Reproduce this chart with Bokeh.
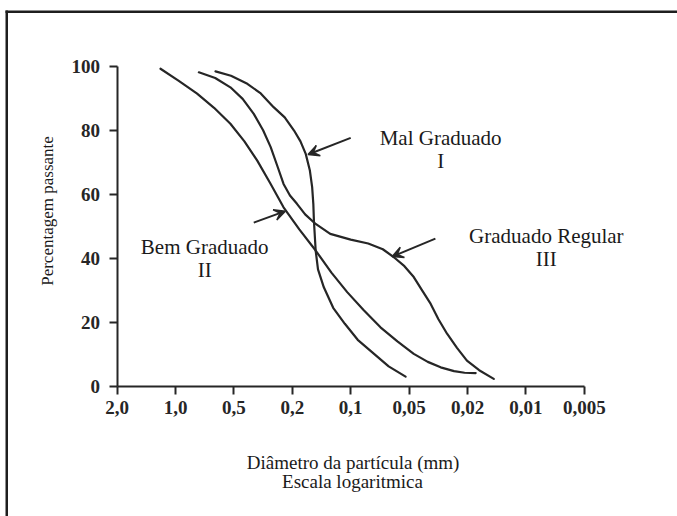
from bokeh.plotting import figure
from bokeh.models import (Range1d, FixedTicker, Label, Arrow, VeeHead, BoxAnnotation)
from bokeh.embed import file_html
from bokeh.resources import INLINE

# ---- data (x = position along the particle-diameter axis, in tick steps) ----
tick_labels = ["2,0", "1,0", "0,5", "0,2", "0,1", "0,05", "0,02", "0,01", "0,005"]
tick_pos = [0, 1, 2, 3, 4, 5, 6, 7, 8]
y_ticks = [0, 20, 40, 60, 80, 100]

# Curve I - Mal Graduado
mal_x = [1.685, 1.95, 2.23, 2.46, 2.68, 2.87, 3.03, 3.14, 3.23, 3.30, 3.34, 3.36, 3.37,
         3.40, 3.44, 3.54, 3.70, 3.90, 4.12, 4.40, 4.65, 4.94]
mal_y = [98.4, 97.0, 94.5, 91.5, 87.2, 84.0, 79.9, 76.5, 72.6, 67.5, 62.2, 57.0, 51.8,
         42.4, 36.5, 30.9, 24.5, 19.5, 14.5, 10.1, 6.2, 3.0]

# Curve II - Bem Graduado
bem_x = [0.743, 1.05, 1.37, 1.66, 1.94, 2.18, 2.40, 2.62, 2.85, 3.12, 3.40, 3.67, 3.94,
         4.22, 4.51, 4.80, 5.08, 5.32, 5.54, 5.77, 5.95, 6.14]
bem_y = [99.2, 95.5, 91.4, 87.0, 82.0, 76.5, 70.5, 63.5, 55.9, 49.0, 42.4, 35.5, 29.4,
         23.8, 18.4, 14.0, 10.1, 7.6, 5.9, 4.7, 4.2, 4.1]

# Curve III - Graduado Regular
reg_x = [1.40, 1.68, 1.94, 2.15, 2.34, 2.50, 2.63, 2.75, 2.85, 2.96, 3.08, 3.22, 3.40,
         3.65, 4.00, 4.30, 4.55, 4.74, 4.92, 5.08, 5.22, 5.37, 5.50, 5.65, 5.82, 5.99,
         6.20, 6.45]
reg_y = [98.1, 96.3, 93.4, 89.8, 85.1, 80.0, 74.7, 68.5, 63.2, 59.6, 57.0, 53.7, 50.7,
         47.6, 45.8, 44.6, 42.8, 40.3, 37.5, 34.1, 30.0, 25.7, 21.0, 16.4, 12.0, 8.0,
         5.0, 2.3]

x_title = ["Diâmetro da partícula (mm)", "Escala logaritmica"]
y_title = "Percentagem passante"

SERIF = "Liberation Serif"
INK = "#262626"

W, H = 677, 516
PX_PER_X, PX_PER_Y = 58.4, 3.2        # axis scale (pixels per unit)
ORIGIN_X, ORIGIN_Y = 116.6, 385.7     # canvas position of the axes origin

p = figure(width=W, height=H, output_backend="svg", toolbar_location=None,
           x_range=Range1d(-ORIGIN_X / PX_PER_X, (W - ORIGIN_X) / PX_PER_X),
           y_range=Range1d((ORIGIN_Y - H) / PX_PER_Y, ORIGIN_Y / PX_PER_Y),
           min_border_left=0, min_border_right=0, min_border_top=0, min_border_bottom=0)
p.outline_line_color = None
p.xgrid.visible = False
p.ygrid.visible = False
p.background_fill_color = "white"
p.border_fill_color = "white"

for ax in (p.xaxis[0], p.yaxis[0]):
    ax.fixed_location = 0
    ax.axis_line_color = INK
    ax.axis_line_width = 2
    ax.major_tick_line_color = INK
    ax.major_tick_line_width = 2
    ax.major_tick_out = 8
    ax.major_tick_in = 0
    ax.minor_tick_line_color = None
    ax.major_label_text_font = SERIF
    ax.major_label_text_font_style = "bold"
    ax.major_label_text_font_size = "19px"
    ax.major_label_text_color = INK

p.xaxis.ticker = FixedTicker(ticks=tick_pos)
p.xaxis.bounds = (tick_pos[0], tick_pos[-1])
p.xaxis.major_label_overrides = {t: l for t, l in zip(tick_pos, tick_labels)}
p.xaxis.major_label_standoff = 7
p.yaxis.ticker = FixedTicker(ticks=y_ticks)
p.yaxis.bounds = (y_ticks[0], y_ticks[-1])
p.yaxis.major_label_standoff = 9

for xs, ys in ((mal_x, mal_y), (bem_x, bem_y), (reg_x, reg_y)):
    p.line(xs, ys, line_color=INK, line_width=2.2, line_join="round", line_cap="round")

# arrows pointing to curves
arrows = [((4.0, 77.6), (3.27, 72.4)), ((2.34, 51.1), (2.88, 54.7)), ((5.45, 46.1), (4.71, 40.5))]
for (xs_, ys_), (xe, ye) in arrows:
    p.add_layout(Arrow(end=VeeHead(size=11, line_color=INK, fill_color=INK, line_width=1.5),
                       x_start=xs_, y_start=ys_, x_end=xe, y_end=ye,
                       line_color=INK, line_width=2))

def lab(x, y, t, size="21px", angle=0.0):
    p.add_layout(Label(x=x, y=y, text=t, text_font=SERIF, text_font_size=size,
                       text_color="#1a1a1a", text_align="center", text_baseline="middle",
                       angle=angle))

lab(5.54, 77.6, "Mal Graduado")
lab(5.54, 70.5, "I")
lab(7.35, 46.8, "Graduado Regular")
lab(7.35, 39.8, "III")
lab(1.50, 43.4, "Bem Graduado")
lab(1.50, 36.4, "II")

lab(4.04, -23.75, x_title[0], size="19px")
lab(4.03, -29.8, x_title[1], size="19px")
lab(-1.197, 54.75, y_title, size="17px", angle=1.5708)

# outer frame of the picture: top and left edges as thin filled strips
def strip(l, r, t, b):
    p.add_layout(BoxAnnotation(left=l, right=r, top=t, bottom=b,
                               left_units="canvas", right_units="canvas",
                               top_units="canvas", bottom_units="canvas",
                               fill_color="#1e1e1e", fill_alpha=1.0, line_color=None))

strip(5, W + 20, 10, 12.5)
strip(5, 7.5, 10, H + 20)

open("out.html", "w").write(file_html(p, INLINE))
